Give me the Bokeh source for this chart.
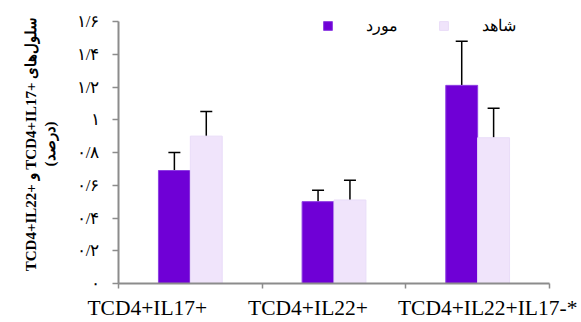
from bokeh.plotting import figure
from bokeh.models import (Range1d, FixedTicker, Whisker, TeeHead, Legend, LegendItem,
                          ColumnDataSource)
from bokeh.transform import dodge
from bokeh.embed import file_html
from bokeh.resources import INLINE

# ---- data ----
categories = ["TCD4+IL17+", "TCD4+IL22+", "TCD4+IL22+IL17-*"]
case_values = [0.69, 0.50, 1.21]
case_errors = [0.11, 0.07, 0.27]
control_values = [0.90, 0.51, 0.89]
control_errors = [0.15, 0.12, 0.18]
series_names = ["مورد", "شاهد"]
y_ticks = [0, 0.2, 0.4, 0.6, 0.8, 1.0, 1.2, 1.4, 1.6]
y_tick_labels = ["۰", "۰/۲", "۰/۴", "۰/۶", "۰/۸", "۱", "۱/۲", "۱/۴", "۱/۶"]
y_title = "TCD4+IL22+ و TCD4+IL17+ سلول\u200cهای\n(درصد)"

CASE_COLOR = "#6F00D6"
CONTROL_COLOR = "#F0E4FB"
SERIF = "Liberation Serif"

W, H = 581, 322
FRAME_L, FRAME_R, FRAME_B = 118, 549, 283
AXIS_TOP = 21      # pixel row of the top y tick
FRAME_T = 4        # frame extends above the axis so the legend is not clipped

n = len(categories)
centers = [i + 0.5 for i in range(n)]  # category slot centres on a numeric axis

y_max = y_ticks[-1]
y_end = y_max * (FRAME_B - FRAME_T) / (FRAME_B - AXIS_TOP)

source = ColumnDataSource(dict(
    x=centers,
    case=case_values,
    case_top=[v + e for v, e in zip(case_values, case_errors)],
    control=control_values,
    control_top=[v + e for v, e in zip(control_values, control_errors)],
))

p = figure(x_range=Range1d(0, n), y_range=Range1d(0, y_end),
           width=W, height=H, output_backend="svg", toolbar_location=None,
           min_border_left=FRAME_L, min_border_right=W - FRAME_R,
           min_border_top=FRAME_T, min_border_bottom=H - FRAME_B)
p.outline_line_color = None
p.xgrid.grid_line_color = None
p.ygrid.grid_line_color = None
p.background_fill_color = "white"
p.border_fill_color = "white"

bw = 0.222
r_case = p.vbar(x=dodge("x", -bw / 2), top="case", width=bw, source=source,
                fill_color=CASE_COLOR, line_color="#8E3FE2", line_width=1)
r_control = p.vbar(x=dodge("x", bw / 2), top="control", width=bw, source=source,
                   fill_color=CONTROL_COLOR, line_color="#E9DCF8", line_width=1)

for col, top, off in (("case", "case_top", -bw / 2), ("control", "control_top", bw / 2)):
    w = Whisker(base=dodge("x", off), lower=col, upper=top, source=source,
                line_color="black", line_width=1.5, lower_head=None,
                upper_head=TeeHead(size=12, line_color="black", line_width=1.5))
    p.add_layout(w)

# y axis
ya = p.yaxis[0]
ya.ticker = FixedTicker(ticks=y_ticks)
ya.bounds = (0, y_max)
ya.major_label_overrides = {t: l for t, l in zip(y_ticks, y_tick_labels)}
ya.axis_line_color = "#8C8C8C"
ya.axis_line_width = 2
ya.major_tick_line_color = "#8C8C8C"
ya.major_tick_line_width = 1.5
ya.major_tick_out = 6
ya.major_tick_in = 0
ya.minor_tick_line_color = None
ya.major_label_standoff = 13
ya.major_label_text_font = SERIF
ya.major_label_text_font_size = "17px"
ya.major_label_text_color = "black"
ya.axis_label = y_title
ya.axis_label_text_font = SERIF
ya.axis_label_text_font_size = "15px"
ya.axis_label_text_font_style = "bold"
ya.axis_label_text_color = "black"
ya.axis_label_standoff = 16

# x axis: boundary ticks as minor ticks, category labels as (invisible) major ticks
px_per_unit = (FRAME_R - FRAME_L) / n
label_shift_px = [-43, -26, 10]
label_pos = [c + s / px_per_unit for c, s in zip(centers, label_shift_px)]
xa = p.xaxis[0]
xa.ticker = FixedTicker(ticks=label_pos, minor_ticks=list(range(n + 1)))
xa.major_label_overrides = {t: c for t, c in zip(label_pos, categories)}
xa.axis_line_color = "#8C8C8C"
xa.axis_line_width = 2
xa.major_tick_line_color = None
xa.major_tick_out = 0
xa.major_tick_in = 0
xa.minor_tick_line_color = "#8C8C8C"
xa.minor_tick_line_width = 1.5
xa.minor_tick_out = 5
xa.minor_tick_in = 0
xa.major_label_standoff = 7
xa.major_label_text_font = SERIF
xa.major_label_text_font_size = "21.5px"
xa.major_label_text_color = "black"

legend = Legend(items=[LegendItem(label=series_names[0], renderers=[r_case]),
                       LegendItem(label=series_names[1], renderers=[r_control])],
                orientation="horizontal", location=(204, 248),
                glyph_width=11, glyph_height=11, label_standoff=33, spacing=40,
                padding=0, margin=0, border_line_color=None, background_fill_alpha=0,
                label_text_font=SERIF, label_text_font_size="16px", label_text_color="black",
                label_height=11)
p.add_layout(legend, "center")

open("out.html", "w").write(file_html(p, INLINE))
